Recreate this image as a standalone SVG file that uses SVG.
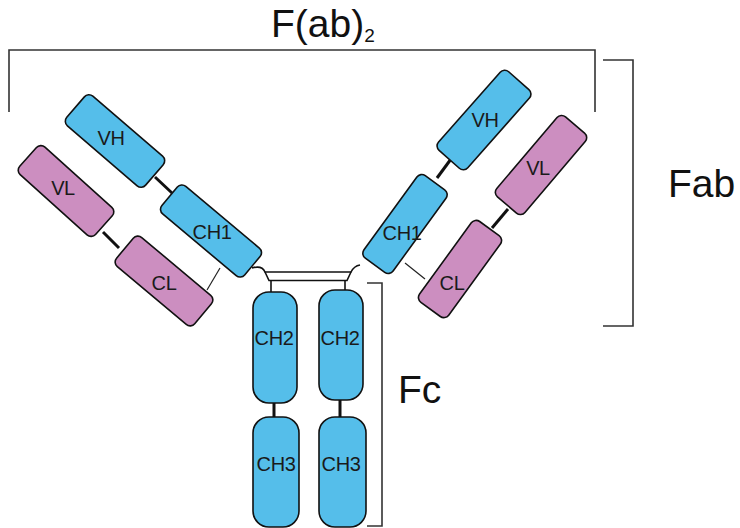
<svg xmlns="http://www.w3.org/2000/svg" width="740" height="528" viewBox="0 0 740 528">
  <style>
    .heavy { fill: #55BEEA; stroke: #111; stroke-width: 1.6; }
    .light { fill: #CC8EC0; stroke: #111; stroke-width: 1.6; }
    .link { stroke: #111; stroke-width: 3; fill: none; }
    .ss { stroke: #222; stroke-width: 1.2; fill: none; }
    .hinge { stroke: #111; stroke-width: 1.6; fill: none; }
    .bracket { stroke: #333; stroke-width: 1.6; fill: none; }
    .lbl { font-family: "Liberation Sans", Arial, sans-serif; font-size: 20px; fill: #1a1a1a; text-anchor: middle; letter-spacing: -0.4px; }
    .big { font-family: "Liberation Sans", Arial, sans-serif; font-size: 39px; fill: #111; }
  </style>

  <!-- region brackets and their captions -->
  <g id="bracket-fab2">
    <path class="bracket" d="M9,112 V50 H595 V112"/>
    <text class="big" x="271" y="37">F(ab)<tspan font-size="19" dy="5">2</tspan></text>
  </g>
  <g id="bracket-fab">
    <path class="bracket" d="M603,60 H633 V326 H603"/>
    <text class="big" x="668" y="197">Fab</text>
  </g>
  <g id="bracket-fc">
    <path class="bracket" d="M367,283 H382 V526 H367"/>
    <text class="big" x="398" y="403">Fc</text>
  </g>

  <!-- linkers, hinge and disulfide bonds -->
  <g id="connectors">
    <line class="link" x1="155" y1="177" x2="172" y2="193"/>
    <line class="link" x1="103" y1="232" x2="119" y2="248"/>
    <line class="ss" x1="220" y1="268" x2="207" y2="290"/>
    <line class="link" x1="451" y1="159" x2="437" y2="178"/>
    <line class="link" x1="508" y1="209" x2="492" y2="228"/>
    <line class="ss" x1="405" y1="263" x2="425" y2="279"/>
    <line class="link" x1="274" y1="402" x2="274" y2="418"/>
    <line class="link" x1="340" y1="399" x2="340" y2="418"/>
    <path class="hinge" d="M252,268 Q262,265 265,272 L351,272 Q354,266 360,265"/>
    <path class="hinge" d="M265,272 L269,280.5 H347 L351,272"/>
    <line class="hinge" x1="271" y1="280.5" x2="271" y2="293"/>
    <line class="hinge" x1="345" y1="280.5" x2="345" y2="291"/>
  </g>

  <!-- left arm -->
  <g id="left-vh">
    <rect class="heavy" x="-52" y="-19.5" width="104" height="39" rx="6" transform="translate(115,141) rotate(40.7)"/>
    <text class="lbl" x="111" y="145">VH</text>
  </g>
  <g id="left-vl">
    <rect class="light" x="-51" y="-18.5" width="102" height="37" rx="6" transform="translate(66,191) rotate(42)"/>
    <text class="lbl" x="63" y="195">VL</text>
  </g>
  <g id="left-ch1">
    <rect class="heavy" x="-54" y="-18" width="108" height="36" rx="6" transform="translate(211,231) rotate(40)"/>
    <text class="lbl" x="212" y="239">CH1</text>
  </g>
  <g id="left-cl">
    <rect class="light" x="-51" y="-19" width="102" height="38" rx="6" transform="translate(164,281) rotate(40)"/>
    <text class="lbl" x="164" y="290">CL</text>
  </g>

  <!-- right arm -->
  <g id="right-vh">
    <rect class="heavy" x="-52.5" y="-19.5" width="105" height="39" rx="6" transform="translate(484,120) rotate(-48.5)"/>
    <text class="lbl" x="485" y="127">VH</text>
  </g>
  <g id="right-vl">
    <rect class="light" x="-52.5" y="-18.5" width="105" height="37" rx="6" transform="translate(541,165) rotate(-49.6)"/>
    <text class="lbl" x="538" y="175">VL</text>
  </g>
  <g id="right-ch1">
    <rect class="heavy" x="-51" y="-18" width="102" height="36" rx="6" transform="translate(405,224) rotate(-54)"/>
    <text class="lbl" x="402" y="240">CH1</text>
  </g>
  <g id="right-cl">
    <rect class="light" x="-50" y="-18" width="100" height="36" rx="6" transform="translate(460,269) rotate(-54)"/>
    <text class="lbl" x="452" y="290">CL</text>
  </g>

  <!-- Fc stem -->
  <g id="left-ch2">
    <rect class="heavy" x="253" y="292" width="44" height="111" rx="16"/>
    <text class="lbl" x="274" y="345">CH2</text>
  </g>
  <g id="right-ch2">
    <rect class="heavy" x="319" y="290" width="44" height="110" rx="16"/>
    <text class="lbl" x="340" y="345">CH2</text>
  </g>
  <g id="left-ch3">
    <rect class="heavy" x="253" y="417" width="46" height="110" rx="16"/>
    <text class="lbl" x="276" y="471">CH3</text>
  </g>
  <g id="right-ch3">
    <rect class="heavy" x="319" y="417" width="47" height="110" rx="16"/>
    <text class="lbl" x="341" y="471">CH3</text>
  </g>
</svg>
